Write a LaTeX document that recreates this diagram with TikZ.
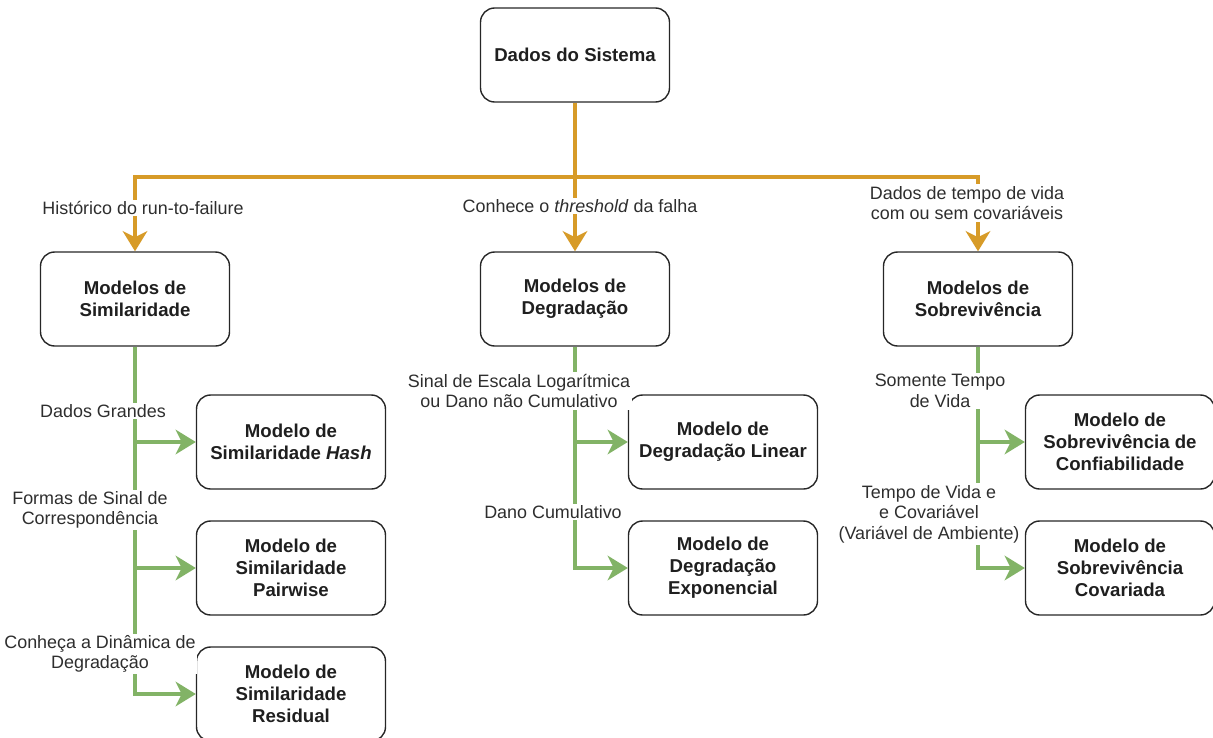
\documentclass[tikz,border=0pt]{standalone}
\usepackage{fontspec}
\setmainfont{Liberation Sans}
\usepackage{xcolor}
\usetikzlibrary{arrows.meta, positioning}
\definecolor{laranja}{HTML}{D79B28}
\definecolor{verde}{HTML}{82B366}

\begin{document}
\begin{tikzpicture}[x=0.02cm, y=-0.02cm,
        >={Stealth[length=11.5pt,width=14pt,inset=3.5pt]},
        caixa/.style={draw=black!85, line width=0.8pt, rounded corners=8pt,
            minimum width=3.78cm, minimum height=1.88cm, align=center,
            font=\fontsize{10.6}{12.6}\selectfont\bfseries, text=black!88},
        rotulo/.style={fill=white, align=center, inner sep=1pt,
            font=\fontsize{10.2}{11.7}\selectfont, text=black!82},
        fluxo/.style={laranja, line width=2.3pt},
        ramo/.style={verde, line width=2.3pt}]
        \useasboundingbox (0,0) rectangle (1213,737);

        % 绘制方框
        \node[caixa] (dados) at (575,55) {Dados do Sistema};
        \node[caixa] (simil) at (135,299) {Modelos de\\Similaridade};
        \node[caixa] (degr) at (575,299) {Modelos de\\Degradação};
        \node[caixa] (sobre) at (978,299) {Modelos de\\Sobrevivência};
        \node[caixa] (hash) at (291,442) {Modelo de\\Similaridade \textit{Hash}};
        \node[caixa] (pair) at (291,568) {Modelo de\\Similaridade\\Pairwise};
        \node[caixa] (resid) at (291,694) {Modelo de\\Similaridade\\Residual};
        \node[caixa] (linear) at (723,442) {Modelo de\\Degradação Linear};
        \node[caixa] (expo) at (723,568) {Modelo de\\Degradação\\Exponencial};
        \node[caixa] (confi) at (1120,442) {Modelo de\\Sobrevivência de\\Confiabilidade};
        \node[caixa] (covar) at (1120,568) {Modelo de\\Sobrevivência\\Covariada};

        % 绘制橙色连线
        \coordinate (split) at (575,177);
        \draw[fluxo] (dados.south) -- (split);
        \draw[fluxo,->] (split) -| (simil.north);
        \draw[fluxo,->] (split) -- (degr.north);
        \draw[fluxo,->] (split) -| (sobre.north);

        % 绘制绿色连线
        \draw[ramo,->] (simil.south) |- (hash.west);
        \draw[ramo,->] (simil.south) |- (pair.west);
        \draw[ramo,->] (simil.south) |- (resid.west);
        \draw[ramo,->] (degr.south) |- (linear.west);
        \draw[ramo,->] (degr.south) |- (expo.west);
        \draw[ramo,->] (sobre.south) |- (confi.west);
        \draw[ramo,->] (sobre.south) |- (covar.west);

        % 标签
        \node[rotulo] (lhist) at (143,208) {Histórico do run-to-failure};
        \node[rotulo] (lthre) at (580,206) {Conhece o \textit{threshold} da falha};
        \node[rotulo] (lvida) at (967,203) {Dados de tempo de vida\\com ou sem covariáveis};
        \node[rotulo] (lgran) at (103,411) {Dados Grandes};
        \node[rotulo] (lform) at (90,510) {Formas de Sinal de\\Correspondência};
        \node[rotulo] (ldina) at (100,654) {Conheça a Dinâmica de\\Degradação};
        \node[rotulo] (lescal) at (519,391) {Sinal de Escala Logarítmica\\ou Dano não Cumulativo};
        \node[rotulo] (ldano) at (553,512) {Dano Cumulativo};
        \node[rotulo] (lsome) at (940,391) {Somente Tempo\\de Vida};
        \node[rotulo] (lcova) at (929,514) {Tempo de Vida e\\e Covariável\\(Variável de Ambiente)};
\end{tikzpicture}
\end{document}
